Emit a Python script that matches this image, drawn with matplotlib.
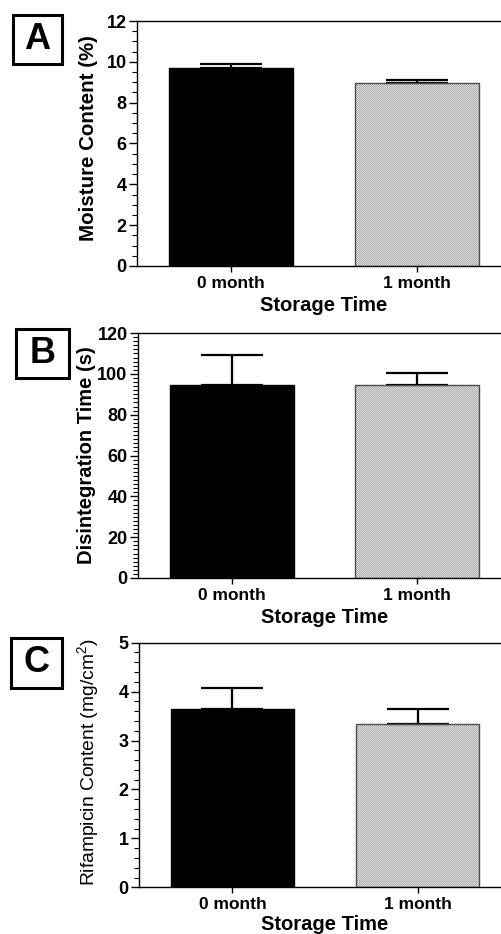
import matplotlib
matplotlib.use("Agg")
import numpy as np
import matplotlib.pyplot as plt
from matplotlib.patches import Rectangle
from matplotlib.ticker import MultipleLocator

plt.rcParams['font.family'] = ['Liberation Sans', 'DejaVu Sans']
plt.rcParams['mathtext.fontset'] = 'custom'
plt.rcParams['mathtext.rm'] = 'Liberation Sans'

categories = ["0 month", "1 month"]
moisture = [9.7, 8.95]
moisture_err = [0.2, 0.15]
disint = [94.4, 94.4]
disint_err = [14.8, 6.0]
rif = [3.65, 3.33]
rif_err = [0.42, 0.31]

W, H = 502, 934
fig = plt.figure(figsize=(W / 100, H / 100), dpi=100)

def fx(px):
    return px / W

def fy(py):
    return 1 - py / H

panels = [
    dict(vals=moisture, errs=moisture_err, ylim=12, major=2, minor=0.5,
         ylabel="Moisture Content (%)", bold=True, ysize=14.8,
         box=(137, 21, 266), letter="A", lbox=(13, 15, 49, 49), ylx=88, yly=138, xlp=3.5),
    dict(vals=disint, errs=disint_err, ylim=120, major=20, minor=2,
         ylabel="Disintegration Time (s)", bold=True, ysize=14.5,
         box=(138, 333, 578), letter="B", lbox=(16, 329, 53, 49), ylx=87, yly=455, xlp=3.5),
    dict(vals=rif, errs=rif_err, ylim=5, major=1, minor=0.2,
         ylabel=r"Rifampicin Content (mg/cm$^{2}$)", bold=False, ysize=13.9,
         box=(139, 642.7, 887.3), letter="C", lbox=(11, 638, 51, 50), ylx=89, yly=762, xlp=2.0),
]

light = np.array([0.89, 0.89, 0.89])
dark = np.array([0.66, 0.66, 0.66])

x = list(range(len(categories)))
for p in panels:
    left, top, bottom = p["box"]
    ax = fig.add_axes([fx(left), fy(bottom), fx(511) - fx(left), (bottom - top) / H])
    ax.set_xlim(-0.505, 1.505)
    ax.set_ylim(0, p["ylim"])
    ax.patch.set_facecolor("none")
    bars = ax.bar(x, p["vals"], width=0.667, color=["black", "none"],
                  edgecolor=["black", "#4a4a4a"], linewidth=1.0, zorder=3)
    # fine checkerboard texture for the "1 month" bar, pixel aligned
    b = bars[1]
    (x0, y0), (x1, y1) = ax.transData.transform(
        [(b.get_x(), b.get_y()), (b.get_x() + b.get_width(), b.get_y() + b.get_height())])
    ix0, iy0 = int(np.floor(x0)), int(np.floor(y0))
    wpx, hpx = int(np.ceil(x1)) - ix0 + 1, int(np.ceil(y1)) - iy0 + 1
    chk = (np.indices((hpx, wpx)).sum(axis=0) % 2)[..., None]
    tex = np.where(chk == 1, dark, light)
    im = fig.figimage(tex, xo=ix0, yo=iy0, origin="lower", zorder=-1)
    im.set_clip_path(b)
    ax.errorbar(x, p["vals"], yerr=[[0] * len(x), p["errs"]], fmt="none",
                ecolor="black", elinewidth=1.6, capsize=22, capthick=1.6, zorder=1)
    ax.yaxis.set_major_locator(MultipleLocator(p["major"]))
    ax.yaxis.set_minor_locator(MultipleLocator(p["minor"]))
    ax.set_xticks(x)
    ax.set_xticklabels(categories, fontsize=12.5, fontweight="bold")
    for lab in ax.get_yticklabels():
        lab.set_fontweight("bold")
    ax.tick_params(axis="y", which="major", labelsize=13, length=6, width=1, pad=1.5)
    ax.tick_params(axis="y", which="minor", length=3.5, width=0.8)
    ax.tick_params(axis="x", which="major", length=4, width=1, pad=3)
    for s in ["left", "bottom", "top"]:
        ax.spines[s].set_linewidth(1.0)
    ax.spines["right"].set_visible(False)
    ax.set_xlabel("Storage Time", fontsize=14.5, fontweight="bold", labelpad=p["xlp"])
    fig.text(fx(p["ylx"]), fy(p["yly"]), p["ylabel"], rotation=90,
             ha="center", va="center", fontsize=p["ysize"],
             fontweight="bold" if p["bold"] else "normal")
    bx, by, bw, bh = p["lbox"]
    fig.patches.append(Rectangle((fx(bx), fy(by + bh)), bw / W, bh / H,
                                 transform=fig.transFigure, fill=False,
                                 edgecolor="black", linewidth=2.2))
    fig.text(fx(bx + bw / 2), fy(by + bh / 2), p["letter"], ha="center",
             va="center", fontsize=26, fontweight="bold")

fig.savefig("out.png", dpi=100)
